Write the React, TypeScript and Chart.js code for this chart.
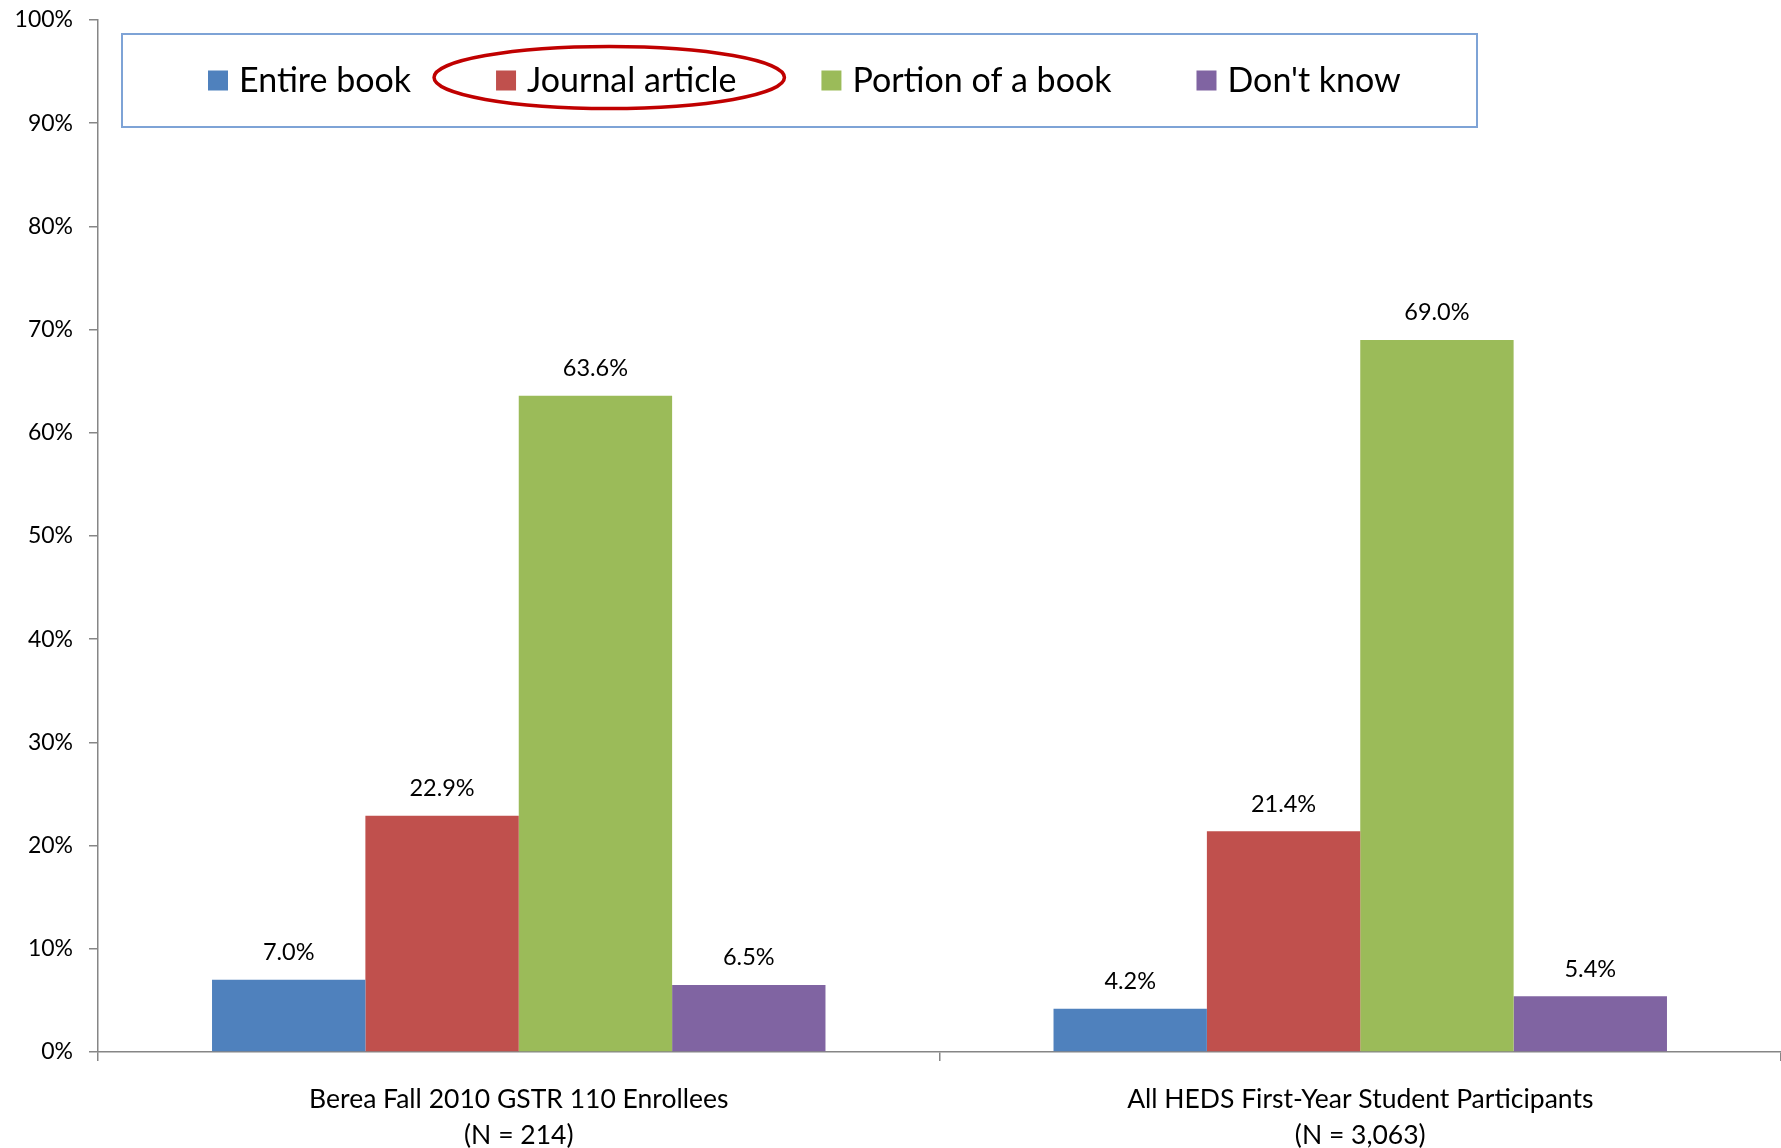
import React, { useEffect, useRef } from 'react';
import { Chart, registerables } from 'chart.js';

Chart.register(...registerables);

const categories: string[][] = [
  ['Berea Fall 2010 GSTR 110 Enrollees', '(N = 214)'],
  ['All HEDS First-Year Student Participants', '(N = 3,063)'],
];
const seriesNames = ['Entire book', 'Journal article', 'Portion of a book', "Don't know"];
const entireBook = [7.0, 4.2];
const journalArticle = [22.9, 21.4];
const portionOfBook = [63.6, 69.0];
const dontKnow = [6.5, 5.4];
const seriesColors = ['#4F81BD', '#C0504D', '#9BBB59', '#8064A2'];
const highlightedSeries = 'Journal article';
const yMin = 0;
const yMax = 100;
const yStep = 10;

const FONT = 'Lato, "Open Sans", sans-serif';

const legendPlugin = {
  id: 'boxLegend',
  afterDraw(chart: any) {
    const ctx = chart.ctx;
    const ca = chart.chartArea;
    const boxL = ca.left + 24;
    const boxT = ca.top + 14;
    const boxW = 1355;
    const boxH = 93;
    ctx.save();
    ctx.fillStyle = '#ffffff';
    ctx.fillRect(boxL, boxT, boxW, boxH);
    ctx.strokeStyle = '#7EA3D6';
    ctx.lineWidth = 2;
    ctx.strokeRect(boxL, boxT, boxW, boxH);
    ctx.font = `34px ${FONT}`;
    ctx.textBaseline = 'middle';
    ctx.textAlign = 'left';
    const cy = boxT + boxH / 2;
    let x = boxL + 86;
    chart.data.datasets.forEach((ds: any) => {
      ctx.fillStyle = ds.backgroundColor;
      ctx.fillRect(x, cy - 10, 20, 20);
      const tx = x + 31;
      ctx.fillStyle = '#000000';
      ctx.fillText(ds.label, tx, cy + 1);
      const w = ctx.measureText(ds.label).width;
      if (ds.label === highlightedSeries) {
        ctx.beginPath();
        ctx.ellipse((x + tx + w) / 2 - 7, cy - 3, (tx + w - x) / 2 + 55, 31, 0, 0, Math.PI * 2);
        ctx.strokeStyle = '#C00000';
        ctx.lineWidth = 3.5;
        ctx.stroke();
      }
      x = tx + w + 85;
    });
    ctx.restore();
  },
};

const valueLabelPlugin = {
  id: 'valueLabels',
  afterDatasetsDraw(chart: any) {
    const ctx = chart.ctx;
    ctx.save();
    ctx.font = `23.5px ${FONT}`;
    ctx.fillStyle = '#000000';
    ctx.textAlign = 'center';
    ctx.textBaseline = 'middle';
    chart.data.datasets.forEach((ds: any, i: number) => {
      const meta = chart.getDatasetMeta(i);
      meta.data.forEach((el: any, j: number) => {
        ctx.fillText(Number(ds.data[j]).toFixed(1) + '%', el.x, el.y - 27);
      });
    });
    ctx.restore();
  },
};

export default function App() {
  const ref = useRef<HTMLCanvasElement | null>(null);
  useEffect(() => {
    if (!ref.current) return;
    const series = [entireBook, journalArticle, portionOfBook, dontKnow];
    const chart = new Chart(ref.current, {
      type: 'bar',
      data: {
        labels: categories,
        datasets: series.map((d, i) => ({
          label: seriesNames[i],
          data: d,
          backgroundColor: seriesColors[i],
          borderWidth: 0,
          categoryPercentage: 0.729,
          barPercentage: 1,
        })),
      },
      options: {
        animation: false,
        responsive: false,
        maintainAspectRatio: false,
        layout: { padding: { top: 20, right: 0, left: 0, bottom: 0 } },
        plugins: {
          legend: { display: false },
          tooltip: { enabled: false },
        },
        scales: {
          x: {
            grid: {
              display: true,
              drawOnChartArea: false,
              drawTicks: true,
              tickLength: 9,
              color: '#868686',
              lineWidth: 1.5,
              offset: true,
            },
            border: { display: true, color: '#868686', width: 1.5 },
            ticks: {
              color: '#000000',
              font: { family: FONT, size: 26.5, lineHeight: 1.36 },
              padding: 20,
            },
            afterFit(scale: any) {
              scale.height = 96;
            },
          },
          y: {
            min: yMin,
            max: yMax,
            grid: {
              display: true,
              drawOnChartArea: false,
              drawTicks: true,
              tickLength: 9,
              color: '#868686',
              lineWidth: 1.5,
            },
            border: { display: true, color: '#868686', width: 1.5 },
            ticks: {
              stepSize: yStep,
              color: '#000000',
              font: { family: FONT, size: 23 },
              padding: 16,
              callback: (v: any) => v + '%',
            },
            afterFit(scale: any) {
              scale.width = 98;
              scale.paddingTop = 0;
              scale.paddingBottom = 0;
            },
          },
        },
      },
      plugins: [valueLabelPlugin, legendPlugin],
    });
    return () => chart.destroy();
  }, []);
  return (
    <div style={{ position: 'fixed', left: 0, top: 0, width: 1781, height: 1148, background: '#fff' }}>
      <canvas ref={ref} width={1781} height={1148} style={{ width: 1781, height: 1148 }} />
    </div>
  );
}
